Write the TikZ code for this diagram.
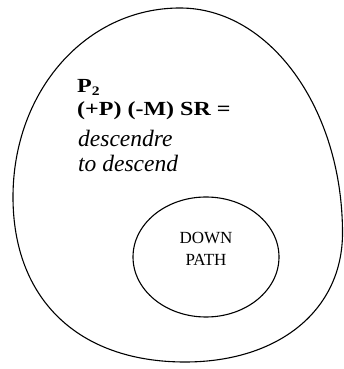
\documentclass[tikz,border=0pt]{standalone}
\usepackage{fontspec}
\setmainfont{Liberation Serif}
\newfontfamily\widebf[FakeStretch=1.2]{Liberation Serif}
\usetikzlibrary{positioning,shapes.geometric}
\tikzset{
  txt/.style={inner sep=0pt,anchor=base west},
  ring/.style={draw,line width=1.1pt}
}

\begin{document}
\begin{tikzpicture}[x=1pt,y=1pt,
      path/.style={ellipse,ring,minimum width=146pt,minimum height=120pt,inner sep=0pt}]
    \useasboundingbox (0,0) rectangle (344,369);
    % outer region
    \coordinate (top) at (180,361);
    \coordinate (rgt) at (342.5,136);
    \coordinate (bot) at (185,7);
    \coordinate (lft) at (13,172);
    \draw[ring] (top) .. controls (270,361) and (342.5,260) .. (rgt)
      .. controls (342.5,59) and (279,7) .. (bot)
      .. controls (78,7) and (13,70) .. (lft)
      .. controls (13,278) and (86,361) .. (top) -- cycle;
    \node[txt,font=\widebf\fontsize{20}{22}\selectfont\bfseries] (p2) at (77,276) {P\raisebox{-3pt}{\fontsize{13}{13}\selectfont 2}};
    \node[txt,font=\widebf\fontsize{20}{22}\selectfont\bfseries] (feat) at (77,253) {(+P) (-M) SR =};
    \node[txt,font=\fontsize{23.5}{26}\selectfont\itshape] (fr) at (78,222.5) {descendre};
    \node[txt,font=\fontsize{23.5}{26}\selectfont\itshape] (en) at (78,197.5) {to descend};
    % inner path
    \node[path] (down) at (206,112) {};
    \node[align=center,inner sep=0pt,font=\fontsize{17}{22}\selectfont] (downlbl) at ([yshift=8pt]down.center) {DOWN\\PATH};
  \end{tikzpicture}
\end{document}
